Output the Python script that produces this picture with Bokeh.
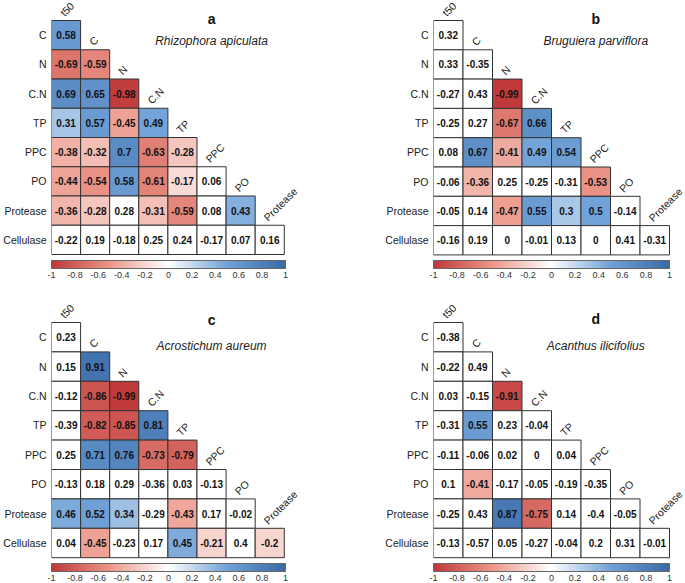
import numpy as np
from bokeh.plotting import figure
from bokeh.models import Range1d, FixedTicker, ColorBar, LinearColorMapper, ColumnDataSource, Label
from bokeh.layouts import row, column
from bokeh.embed import file_html
from bokeh.resources import INLINE
from bokeh.core.properties import value

# ---------------- data ----------------
row_labels = ["C", "N", "C.N", "TP", "PPC", "PO", "Protease", "Cellulase"]
col_labels = ["t50", "C", "N", "C.N", "TP", "PPC", "PO", "Protease"]
colorbar_ticks = [-1, -0.8, -0.6, -0.4, -0.2, 0, 0.2, 0.4, 0.6, 0.8, 1]

panel_letters = ["a", "b", "c", "d"]
species = ["Rhizophora apiculata", "Bruguiera parviflora", "Acrostichum aureum", "Acanthus ilicifolius"]

# lower-triangle correlations (row i has i+1 values, columns t50..)
r_a = [[0.58],
       [-0.69, -0.59],
       [0.69, 0.65, -0.98],
       [0.31, 0.57, -0.45, 0.49],
       [-0.38, -0.32, 0.7, -0.63, -0.28],
       [-0.44, -0.54, 0.58, -0.61, -0.17, 0.06],
       [-0.36, -0.28, 0.28, -0.31, -0.59, 0.08, 0.43],
       [-0.22, 0.19, -0.18, 0.25, 0.24, -0.17, 0.07, 0.16]]
sig_a = [[1],
         [1, 1],
         [1, 1, 1],
         [1, 1, 1, 1],
         [1, 1, 1, 1, 1],
         [1, 1, 1, 1, 1, 0],
         [1, 1, 0, 1, 1, 0, 1],
         [0, 0, 0, 0, 0, 0, 0, 0]]

r_b = [[0.32],
       [0.33, -0.35],
       [-0.27, 0.43, -0.99],
       [-0.25, 0.27, -0.67, 0.66],
       [0.08, 0.67, -0.41, 0.49, 0.54],
       [-0.06, -0.36, 0.25, -0.25, -0.31, -0.53],
       [-0.05, 0.14, -0.47, 0.55, 0.3, 0.5, -0.14],
       [-0.16, 0.19, 0, -0.01, 0.13, 0, 0.41, -0.31]]
sig_b = [[0],
         [0, 0],
         [0, 0, 1],
         [0, 0, 1, 1],
         [0, 1, 1, 1, 1],
         [0, 1, 0, 0, 0, 1],
         [0, 0, 1, 1, 1, 1, 0],
         [0, 0, 0, 0, 0, 0, 0, 0]]

r_c = [[0.23],
       [0.15, 0.91],
       [-0.12, -0.86, -0.99],
       [-0.39, -0.82, -0.85, 0.81],
       [0.25, 0.71, 0.76, -0.73, -0.79],
       [-0.13, 0.18, 0.29, -0.36, 0.03, -0.13],
       [0.46, 0.52, 0.34, -0.29, -0.43, 0.17, -0.02],
       [0.04, -0.45, -0.23, 0.17, 0.45, -0.21, 0.4, -0.2]]
sig_c = [[0],
         [0, 1],
         [0, 1, 1],
         [0, 1, 1, 1],
         [0, 1, 1, 1, 1],
         [0, 0, 0, 0, 0, 0],
         [1, 1, 1, 0, 1, 0, 0],
         [0, 1, 0, 0, 1, 1, 0, 1]]

r_d = [[-0.38],
       [-0.22, 0.49],
       [0.03, -0.15, -0.91],
       [-0.31, 0.55, 0.23, -0.04],
       [-0.11, -0.06, 0.02, 0, 0.04],
       [0.1, -0.41, -0.17, -0.05, -0.19, -0.35],
       [-0.25, 0.43, 0.87, -0.75, 0.14, -0.4, -0.05],
       [-0.13, -0.57, 0.05, -0.27, -0.04, 0.2, 0.31, -0.01]]
sig_d = [[0],
         [0, 0],
         [0, 0, 1],
         [0, 1, 0, 0],
         [0, 0, 0, 0, 0],
         [0, 1, 0, 0, 0, 0],
         [0, 0, 1, 1, 0, 0, 0],
         [0, 0, 0, 0, 0, 0, 0, 0]]

# ---------------- style ----------------
FONT = "Liberation Sans"
stops_v = [-1.0, -0.5, 0.0, 0.5, 1.0]
stops_c = [(192, 57, 58), (236, 152, 138), (255, 255, 255), (112, 162, 216), (58, 106, 166)]


def build_palette(n=256):
    out = []
    for k in range(n):
        v = -1 + 2 * k / (n - 1)
        rgb = [int(round(np.interp(v, stops_v, [c[ch] for c in stops_c]))) for ch in range(3)]
        out.append("#%02x%02x%02x" % tuple(rgb))
    return out


PALETTE = build_palette()


def color_of(v):
    return PALETTE[int(round((v + 1) / 2 * (len(PALETTE) - 1)))]


def make_panel(letter, name, vals, sig, W, H, left, grid_top, cw, ch, cb_y,
               letter_dy, name_dy):
    frame_w = W - left
    x_range = Range1d(-0.5, -0.5 + frame_w / cw)
    y_top = -0.5 - grid_top / ch
    y_range = Range1d(start=y_top + H / ch, end=y_top)
    p = figure(width=W, height=H, x_range=x_range, y_range=y_range,
               output_backend="svg", toolbar_location=None,
               x_axis_location=None, min_border_left=left, min_border_right=0,
               min_border_top=0, min_border_bottom=0, outline_line_color=None)
    p.grid.visible = False
    ax = p.yaxis[0]
    ax.ticker = FixedTicker(ticks=list(range(len(row_labels))))
    ax.major_label_overrides = {i: lab for i, lab in enumerate(row_labels)}
    ax.axis_line_color = None
    ax.major_tick_line_color = None
    ax.minor_tick_line_color = None
    ax.major_tick_out = 0
    ax.major_tick_in = 0
    ax.major_label_standoff = 5
    ax.major_label_text_font = FONT
    ax.major_label_text_font_size = "10.5px"
    ax.major_label_text_color = "#222222"

    xs, ys, fills, labs = [], [], [], []
    for i, rv in enumerate(vals):
        for j, v in enumerate(rv):
            xs.append(j)
            ys.append(i)
            fills.append(color_of(v) if sig[i][j] else "#ffffff")
            labs.append(f"{v:g}")
    src = ColumnDataSource(dict(x=xs, y=ys, fill=fills, lab=labs))
    p.rect(x="x", y="y", width=1, height=1, source=src, fill_color="fill",
           line_color="#333333", line_width=1)
    p.text(x="x", y="y", text="lab", source=src, text_align="center",
           text_baseline="middle", text_font=value(FONT), text_font_size="10px",
           text_font_style="bold", text_color="#111111")

    # diagonal column labels
    n = len(col_labels)
    p.text(x=list(range(n)), y=[j - 0.5 for j in range(n)], text=col_labels,
           angle=45, angle_units="deg", text_align="left", text_baseline="bottom",
           x_offset=0, y_offset=-2,
           text_font=value(FONT), text_font_size="10.5px", text_color="#222222")

    p.add_layout(Label(x=5, y=-0.5 + letter_dy / ch, text=letter, text_align="center",
                       text_baseline="middle", text_font=FONT, text_font_size="14px",
                       text_font_style="bold", text_color="#111111"))
    p.add_layout(Label(x=5, y=-0.5 + name_dy / ch, text=name, text_align="center",
                       text_baseline="middle", text_font=FONT, text_font_size="12px",
                       text_font_style="italic", text_color="#222222"))

    mapper = LinearColorMapper(palette=PALETTE, low=-1, high=1)
    cb = ColorBar(color_mapper=mapper, orientation="horizontal",
                  width=int(round(8 * cw)), height=8, location=(0, cb_y),
                  padding=0, margin=0, ticker=FixedTicker(ticks=colorbar_ticks),
                  major_label_overrides={t: f"{t:g}" for t in colorbar_ticks},
                  major_tick_line_color=None, minor_tick_line_color=None,
                  bar_line_color="#666666", border_line_color=None,
                  background_fill_alpha=0, label_standoff=3,
                  major_label_text_font=FONT, major_label_text_font_size="9px",
                  major_label_text_color="#333333")
    p.add_layout(cb, "center")
    return p


pa = make_panel("a", species[0], r_a, sig_a, 340, 290, 49, 20, 29.3, 29.25, 10, -2, 20)
pb = make_panel("b", species[1], r_b, sig_b, 345, 290, 93, 20, 29.5, 29.3, 10, -2, 20)
pc = make_panel("c", species[2], r_c, sig_c, 340, 293, 49, 32, 29.3, 29.4, 0, -3, 23)
pd = make_panel("d", species[3], r_d, sig_d, 345, 293, 93, 32, 29.5, 29.4, 0, -4, 23)

layout = column(row(pa, pb, spacing=0), row(pc, pd, spacing=0), spacing=0)
open("out.html", "w").write(file_html(layout, INLINE))
